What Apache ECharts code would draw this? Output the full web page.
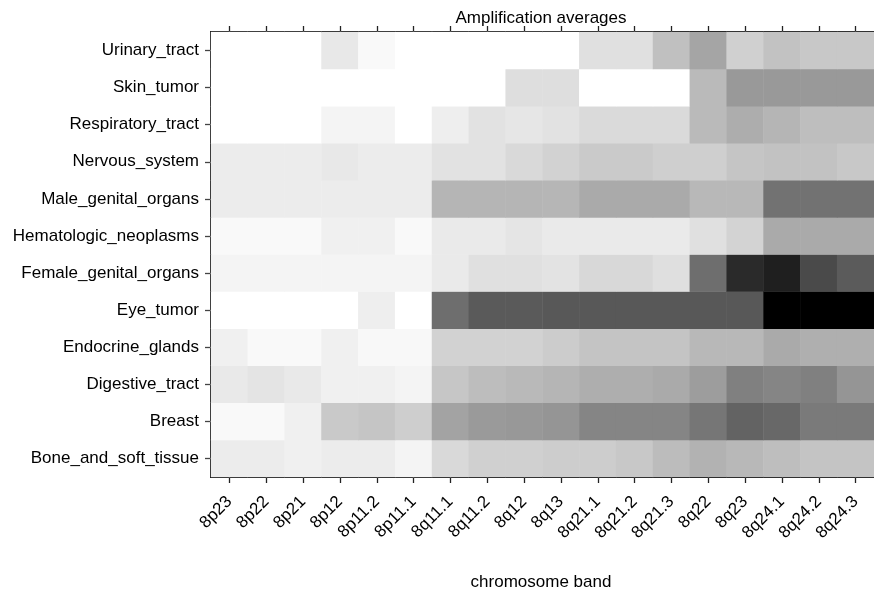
<!DOCTYPE html>
<html>
<head>
<meta charset="utf-8">
<script src="https://cdn.jsdelivr.net/npm/echarts@6/dist/echarts.min.js"></script>
<style>
html,body{margin:0;padding:0;background:#fff;}
#chart{width:874px;height:596px;}
</style>
</head>
<body>
<div id="chart"></div>
<script>
// Chromosome bands (x categories)
const bands = ['8p23','8p22','8p21','8p12','8p11.2','8p11.1','8q11.1','8q11.2','8q12','8q13','8q21.1','8q21.2','8q21.3','8q22','8q23','8q24.1','8q24.2','8q24.3'];
// Tissue groups (y categories, bottom to top)
const tissues = ['Bone_and_soft_tissue','Breast','Digestive_tract','Endocrine_glands','Eye_tumor','Female_genital_organs','Hematologic_neoplasms','Male_genital_organs','Nervous_system','Respiratory_tract','Skin_tumor','Urinary_tract'];

// Amplification averages (darkness level, 0 = white, 255 = black), one array per tissue
const Bone_and_soft_tissue  = [19,19,15,19,19,11,38,47,47,50,50,55,67,77,71,65,59,59];
const Breast                = [6,6,15,54,58,49,92,101,103,106,122,122,122,137,156,151,133,133];
const Digestive_tract       = [22,27,22,15,15,11,57,66,70,74,81,81,85,98,127,122,127,106];
const Endocrine_glands      = [15,6,6,15,7,7,45,45,45,51,59,59,59,71,71,85,80,80];
const Eye_tumor             = [0,0,0,0,17,0,145,165,165,167,167,167,167,167,167,255,255,255];
const Female_genital_organs = [11,11,11,11,11,11,21,31,31,28,39,39,32,145,213,224,181,164];
const Hematologic_neoplasms = [6,6,6,15,15,6,21,21,26,21,21,21,21,31,44,85,85,85];
const Male_genital_organs   = [19,19,19,19,19,19,74,74,74,73,85,85,85,71,71,141,141,141];
const Nervous_system        = [19,19,19,23,19,19,29,29,38,45,53,53,48,48,58,61,61,55];
const Respiratory_tract     = [0,0,0,11,11,0,17,29,25,29,37,37,37,69,82,74,65,65];
const Skin_tumor            = [0,0,0,0,0,0,0,0,33,33,0,0,0,69,102,102,102,102];
const Urinary_tract         = [0,0,0,23,6,0,0,0,0,0,31,31,63,90,47,61,55,55];

const rows = [Bone_and_soft_tissue, Breast, Digestive_tract, Endocrine_glands, Eye_tumor,
  Female_genital_organs, Hematologic_neoplasms, Male_genital_organs, Nervous_system,
  Respiratory_tract, Skin_tumor, Urinary_tract];

const data = [];
rows.forEach((r, yi) => r.forEach((v, xi) => data.push([xi, yi, v])));

const FONT = '"Liberation Sans", Arial, sans-serif';
const chart = echarts.init(document.getElementById('chart'), null, {renderer: 'canvas'});
chart.setOption({
  animation: false,
  backgroundColor: '#ffffff',
  grid: {left: 211, top: 32, width: 669, height: 445, containLabel: false},
  xAxis: [{
    type: 'category', data: bands, position: 'bottom',
    axisLine: {show: true, lineStyle: {color: '#000', width: 2}},
    axisTick: {show: true, interval: 0, alignWithLabel: true, length: 6, lineStyle: {color: '#222', width: 1.3}},
    axisLabel: {interval: 0, rotate: 45, margin: 22, fontSize: 17, color: '#000', fontFamily: FONT},
    splitLine: {show: false}
  }, {
    type: 'category', data: bands, position: 'top',
    axisLine: {show: true, lineStyle: {color: '#000', width: 2}},
    axisTick: {show: true, interval: 0, alignWithLabel: true, length: 6, lineStyle: {color: '#222', width: 1.3}},
    axisLabel: {show: false},
    splitLine: {show: false}
  }],
  yAxis: {
    type: 'category', data: tissues,
    axisLine: {show: true, lineStyle: {color: '#000', width: 2}},
    axisTick: {show: true, interval: 0, alignWithLabel: true, length: 6, lineStyle: {color: '#444', width: 1.3}},
    axisLabel: {interval: 0, margin: 12, fontSize: 17, color: '#000', fontFamily: FONT},
    splitLine: {show: false}
  },
  visualMap: {show: false, min: 0, max: 255, dimension: 2, inRange: {color: ['#ffffff', '#000000']}},
  series: [{type: 'heatmap', data: data, xAxisIndex: 0, yAxisIndex: 0, itemStyle: {borderWidth: 0}, emphasis: {disabled: true}}],
  graphic: [
    {type: 'text', x: 541, y: 18, style: {text: 'Amplification averages', font: '17px ' + FONT, fill: '#000', align: 'center', verticalAlign: 'middle'}},
    {type: 'text', x: 541, y: 582, style: {text: 'chromosome band', font: '17px ' + FONT, fill: '#000', align: 'center', verticalAlign: 'middle'}}
  ]
});
</script>
</body>
</html>
